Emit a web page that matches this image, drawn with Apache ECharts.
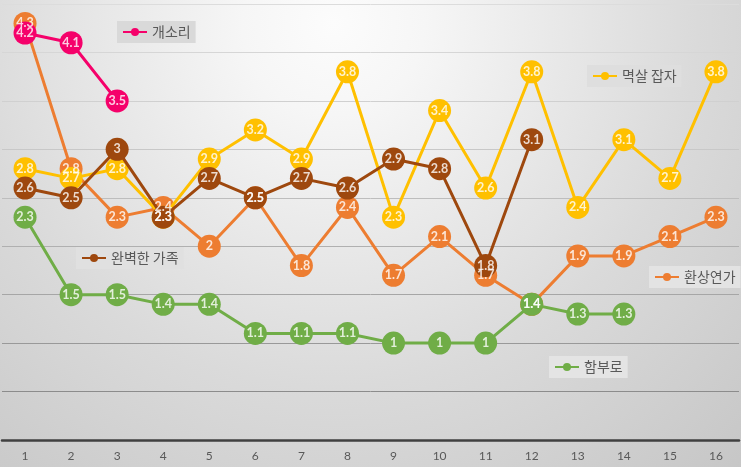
<!DOCTYPE html>
<html>
<head>
<meta charset="utf-8">
<script src="https://cdn.jsdelivr.net/npm/echarts@6/dist/echarts.min.js"></script>
<style>html,body{margin:0;padding:0;}#c{width:741px;height:467px;}</style>
</head>
<body>
<div id="c"></div>
<script>
const categories = ['1','2','3','4','5','6','7','8','9','10','11','12','13','14','15','16'];
const seriesNames = ['환상연가', '함부로', '멱살 잡자', '완벽한 가족', '개소리'];
const fantasy = [4.3, 2.8, 2.3, 2.4, 2, 2.5, 1.8, 2.4, 1.7, 2.1, 1.7, 1.4, 1.9, 1.9, 2.1, 2.3];
const hambu = [2.3, 1.5, 1.5, 1.4, 1.4, 1.1, 1.1, 1.1, 1, 1, 1, 1.4, 1.3, 1.3];
const collar = [2.8, 2.7, 2.8, 2.3, 2.9, 3.2, 2.9, 3.8, 2.3, 3.4, 2.6, 3.8, 2.4, 3.1, 2.7, 3.8];
const family = [2.6, 2.5, 3, 2.3, 2.7, 2.5, 2.7, 2.6, 2.9, 2.8, 1.8, 3.1];
const nonsense = [4.2, 4.1, 3.5];
const yTicks = [0, 0.5, 1, 1.5, 2, 2.5, 3, 3.5, 4, 4.5];

const colors = ['#ED7D31', '#70AD47', '#FFC000', '#9E480E', '#F5016A'];
const datas = [fantasy, hambu, collar, family, nonsense];

const chart = echarts.init(document.getElementById('c'), null, {renderer: 'canvas'});

function mkSeries(i) {
  return {
    name: seriesNames[i],
    type: 'line',
    data: datas[i],
    symbol: 'circle',
    symbolSize: 23,
    color: colors[i],
    lineStyle: {width: 3, color: colors[i]},
    itemStyle: {color: colors[i]},
    label: {show: false},
    emphasis: {disabled: true},
    animation: false,
    z: 2 + i
  };
}

// transparent overlay that carries the value labels above every marker
function mkLabels(i) {
  return {
    name: seriesNames[i] + '_label',
    type: 'scatter',
    data: datas[i],
    symbol: 'circle',
    symbolSize: 23,
    itemStyle: {color: 'rgba(0,0,0,0)'},
    label: {
      show: true, position: 'inside', color: '#ffffff',
      fontFamily: 'Lato', fontWeight: 'bold', fontSize: 12.5
    },
    emphasis: {disabled: true},
    silent: true,
    animation: false,
    z: 20 + i
  };
}

function mkLegend(name, left, top, bg) {
  return {
    data: [name], left: left, top: top,
    orient: 'horizontal',
    backgroundColor: bg,
    padding: [4, 5, 4, 5],
    itemWidth: 24, itemHeight: 10,
    textStyle: {color: '#595959', fontSize: 14, fontFamily: 'Noto Sans CJK KR'},
    selectedMode: false
  };
}

const option = {
  backgroundColor: {
    type: 'radial', x: 0.45, y: 0.05, r: 1.3,
    colorStops: [
      {offset: 0, color: '#fcfcfc'},
      {offset: 0.15, color: '#f6f6f6'},
      {offset: 0.6, color: '#dadada'},
      {offset: 1, color: '#c6c6c6'}
    ]
  },
  animation: false,
  grid: {left: 2, right: 2, top: 4, bottom: 27, containLabel: false},
  legend: [
    mkLegend('개소리', 117, 21, '#d9d9d9'),
    mkLegend('멱살 잡자', 587, 65, '#dedede'),
    mkLegend('완벽한 가족', 76, 247, '#e0e0e0'),
    mkLegend('환상연가', 649, 266, '#e3e3e3'),
    mkLegend('함부로', 549, 356, '#e4e4e4')
  ],
  xAxis: {
    type: 'category', data: categories, boundaryGap: true,
    axisLine: {lineStyle: {color: '#404040', width: 2.5}},
    axisTick: {show: false},
    axisLabel: {color: '#595959', fontSize: 12, fontFamily: 'Lato', margin: 10}
  },
  yAxis: {
    type: 'value', min: yTicks[0], max: yTicks[yTicks.length - 1], interval: 0.5,
    axisLabel: {show: false},
    axisLine: {show: false}, axisTick: {show: false},
    splitLine: {lineStyle: {width: 1, color: ['#888888', '#8c8c8c', '#999999', '#a6a6a6', '#b0b0b0', '#bdbdbd', '#c8c8c8', '#d0d0d0', '#d6d6d6', '#dcdcdc']}}
  },
  series: [0, 1, 2, 3, 4].map(mkSeries).concat([0, 1, 2, 3, 4].map(mkLabels))
};
chart.setOption(option);
</script>
</body>
</html>
